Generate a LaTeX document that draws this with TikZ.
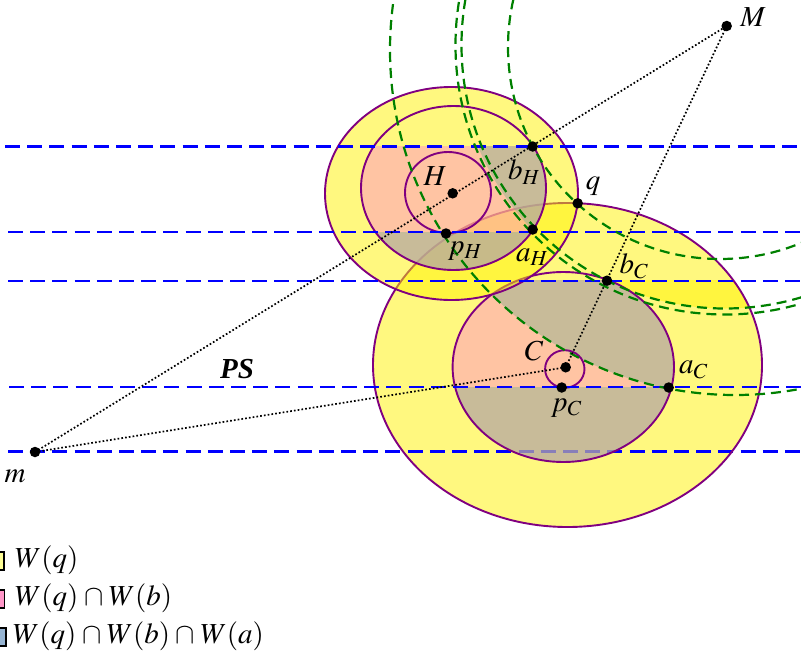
\documentclass[tikz,border=0pt]{standalone}
\usepackage{mathptmx}
\usepackage{fontspec}
\setmainfont{Liberation Serif}
\definecolor{purp}{RGB}{128,0,128}
\definecolor{dgreen}{RGB}{0,128,0}
\definecolor{pinkf}{RGB}{255,145,200}
\definecolor{bluef}{RGB}{145,180,145}
\definecolor{legy}{RGB}{255,255,150}
\definecolor{legp}{RGB}{255,150,200}
\definecolor{legb}{RGB}{150,180,210}
\newcommand{\capsp}{\hspace{1.5pt}\cap\hspace{1.5pt}}
\begin{document}
\begin{tikzpicture}[x=1pt,y=-1pt,
  dot/.style={circle,fill=black,inner sep=0pt,minimum size=10.5pt},
  lbl/.style={font=\fontsize{29}{34}\selectfont,inner sep=0pt},
  ell/.style={draw=purp,line width=1.9pt},
  blueline/.style={draw=blue,line width=2.3pt,dash pattern=on 15pt off 7.2pt},
  greenarc/.style={draw=dgreen,line width=2.2pt,dash pattern=on 10pt off 6pt},
  dotline/.style={line width=1.7pt,dash pattern=on 1.7pt off 2.1pt},
  wq/.style={fill=yellow,fill opacity=0.5},
  wb/.style={fill=pinkf,fill opacity=0.5},
  wa/.style={fill=bluef,fill opacity=0.5},
  legbox/.style={draw=black,line width=1.5pt}]
\useasboundingbox (0,0) rectangle (801,656);
\clip (0,0) rectangle (801,656);

% point coordinates
\coordinate (M) at (726.7,26);
\coordinate (m) at (35,452);
\coordinate (H) at (452.7,193.3);
\coordinate (C) at (565.7,367.3);
\coordinate (bH) at (532.7,146.5);
\coordinate (aH) at (532.7,229.5);
\coordinate (pH) at (446,233.5);
\coordinate (q) at (577.7,203.3);
\coordinate (bC) at (607,280.7);
\coordinate (aC) at (668.7,387.5);
\coordinate (pC) at (561.7,387.5);

% ---------- cluster C fills ----------
\fill[wq] (567.5,365) ellipse [x radius=194.5, y radius=162];
% lowest blue line (over the yellow, under the inner fills)
\draw[blueline] (8,451.5) -- (801,451.5);
\begin{scope}
  \clip (0,280.7) rectangle (801,656);
  \clip (725,45) circle [radius=263.5];
  \fill[wq,even odd rule] (567.5,365) ellipse [x radius=194.5, y radius=162]
        (563.3,367) ellipse [x radius=110.7, y radius=95];
\end{scope}
\begin{scope}
  \clip (0,280.7) rectangle (801,656);
  \fill[wb] (563.3,367) ellipse [x radius=110.7, y radius=95];
\end{scope}
\begin{scope}
  \clip (563.3,367) ellipse [x radius=110.7, y radius=95];
  \fill[wa] (0,386.7) rectangle (801,656);
\end{scope}
\begin{scope}
  \clip (563.3,367) ellipse [x radius=110.7, y radius=95];
  \clip (0,280.7) rectangle (801,386.7);
  \fill[wa] (735,50) circle [radius=345];
\end{scope}
\draw[ell] (567.5,365) ellipse [x radius=194.5, y radius=162];
\draw[ell] (563.3,367) ellipse [x radius=110.7, y radius=95];
\draw[ell] (564.8,369) ellipse [x radius=19.7, y radius=18.8];

% ---------- cluster H fills ----------
\fill[wq] (451.5,193.5) ellipse [x radius=126.5, y radius=106.5];
\begin{scope}
  \clip (0,146.5) rectangle (801,656);
  \fill[wb] (453.5,188) ellipse [x radius=92.5, y radius=82];
\end{scope}
\begin{scope}
  \clip (453.5,188) ellipse [x radius=92.5, y radius=82];
  \fill[wa] (0,232.3) rectangle (801,656);
\end{scope}
\begin{scope}
  \clip (453.5,188) ellipse [x radius=92.5, y radius=82];
  \clip (0,146.5) rectangle (801,232.3);
  \fill[wa] (725,45) circle [radius=267];
\end{scope}
\draw[ell] (451.5,193.5) ellipse [x radius=126.5, y radius=106.5];
\draw[ell] (453.5,188) ellipse [x radius=92.5, y radius=82];
\draw[ell] (448,192.5) ellipse [x radius=43, y radius=40.5];

% ---------- blue dashed lines ----------
\draw[blueline] (5,146.5) -- (801,146.5);
\draw[blueline] (8,232.3) -- (801,232.3);
\draw[blueline] (8,280.7) -- (801,280.7);
\draw[blueline] (9,386.7) -- (801,386.7);

% ---------- green dashed arcs ----------
\draw[greenarc] (735,50) circle [radius=345];
\draw[greenarc] (720,47) circle [radius=212];
\draw[greenarc] (725,45) circle [radius=263.5];
\draw[greenarc] (725,45) circle [radius=269.5];

% ---------- dotted connectors ----------
\draw[dotline] (m) -- (M);
\draw[dotline] (m) -- (C);
\draw[dotline] (M) -- (C);

% ---------- points ----------
\foreach \p in {M,m,H,C,bH,aH,pH,q,bC,aC,pC}
  \node[dot] (d\p) at (\p) {};

% ---------- labels ----------
\node[lbl] (lM) at (753,17.5) {$M$};
\node[lbl] (lm) at (15,476) {$m$};
\node[lbl] (lH) at (435,176) {$H$};
\node[lbl] (lC) at (534,351) {$C$};
\node[lbl] (lq) at (593,186) {$q$};
\node[lbl] (lbH) at (524,172) {$b_H$};
\node[lbl] (laH) at (532,257) {$a_H$};
\node[lbl] (lpH) at (465,251) {$p_H$};
\node[lbl] (lbC) at (634,266) {$b_C$};
\node[lbl] (laC) at (693.5,370) {$a_C$};
\node[lbl] (lpC) at (566.5,408) {$p_C$};
\node[lbl] (lPS) at (237,369) {\textbf{\textit{PS}}};

% ---------- legend ----------
\draw[legbox,fill=legy] (-14,552) rectangle (4,570);
\draw[legbox,fill=legp] (-13.5,590) rectangle (4.5,608);
\draw[legbox,fill=legb] (-12,628) rectangle (6,646);
\node[lbl,anchor=base west] (t1) at (15,567) {$W(q)$};
\node[lbl,anchor=base west] (t2) at (15,605) {$W(q)\capsp W(b)$};
\node[lbl,anchor=base west] (t3) at (13,643) {$W(q)\capsp W(b)\capsp W(a)$};
\end{tikzpicture}
\end{document}
